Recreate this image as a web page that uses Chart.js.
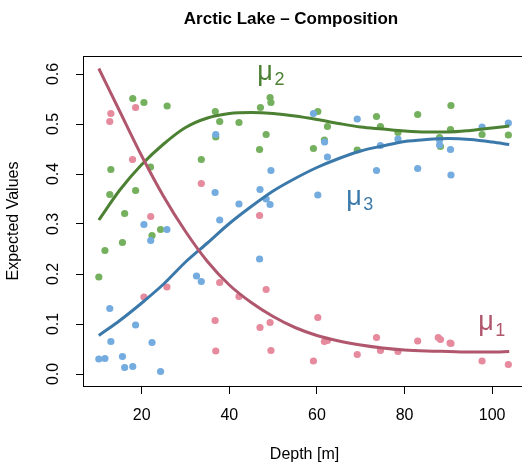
<!DOCTYPE html>
<html><head><meta charset="utf-8">
<script src="https://cdn.jsdelivr.net/npm/chart.js@4/dist/chart.umd.min.js"></script>
<style>html,body{margin:0;padding:0;overflow:hidden;background:#fff}</style>
</head><body>
<canvas id="c" width="530" height="464"></canvas>
<script>
// ---- data ----
const depthTicks = [20, 40, 60, 80, 100];
const valueTicks = [0.0, 0.1, 0.2, 0.3, 0.4, 0.5, 0.6];

// observed compositions (component 1 = pink, 2 = green, 3 = blue)
const obsDepth1 = [12.95,12.7,18.6,17.9,22.05,25.75,20.5,33.6,46.9,37.8,42.2,36.75,36.9,47.0,48.4,49.3,49.5,60.2,61.7,62.4,59.2,73.6,74.5,78.5,83.0,69.2,87.7,88.2,90.6,90.4,97.7,103.7];
const obsValue1 = [0.521,0.505,0.533,0.429,0.315,0.174,0.154,0.381,0.317,0.183,0.155,0.107,0.046,0.093,0.169,0.103,0.047,0.113,0.065,0.067,0.026,0.073,0.047,0.045,0.066,0.039,0.073,0.069,0.061,0.062,0.026,0.019];

const obsDepth2 = [17.95,20.5,25.8,12.95,22.0,12.7,18.6,16.1,22.35,24.3,15.6,11.6,10.2,36.8,37.8,42.2,36.9,33.6,47.1,46.9,49.3,49.5,48.4,60.2,62.4,61.7,59.2,73.6,74.5,83.0,78.5,69.2,90.6,90.5,88.0,88.2,97.7,103.7];
const obsValue2 = [0.551,0.543,0.536,0.409,0.414,0.359,0.367,0.321,0.277,0.289,0.263,0.247,0.194,0.525,0.505,0.503,0.474,0.429,0.533,0.449,0.553,0.543,0.479,0.525,0.495,0.468,0.451,0.515,0.495,0.519,0.483,0.448,0.537,0.489,0.473,0.455,0.479,0.478];

const obsDepth3 = [20.5,22.05,25.75,12.7,18.6,12.95,22.35,10.2,11.6,15.6,16.1,17.95,24.3,36.9,36.75,42.2,37.8,32.5,33.6,47.0,46.9,59.2,61.75,62.4,49.5,60.2,48.4,49.3,69.2,74.5,78.5,73.6,83.0,88.0,88.0,90.5,90.6,97.7,103.7];
const obsValue3 = [0.299,0.267,0.289,0.131,0.098,0.065,0.063,0.030,0.031,0.035,0.013,0.015,0.005,0.479,0.363,0.340,0.308,0.196,0.185,0.369,0.230,0.521,0.464,0.434,0.407,0.358,0.350,0.339,0.510,0.457,0.470,0.407,0.411,0.468,0.458,0.449,0.398,0.494,0.502];

// fitted expected values
const curveDepth = [10.2,15,20,25,30,35,40,45,50,55,60,65,70,75,80,85,90,95,100,103.9];
const mu1 = [0.611,0.525,0.436,0.355,0.285,0.225,0.178,0.143,0.115,0.093,0.077,0.066,0.058,0.052,0.048,0.046,0.045,0.044,0.044,0.045];
const mu2 = [0.308,0.368,0.419,0.460,0.493,0.512,0.521,0.523,0.521,0.516,0.509,0.501,0.494,0.490,0.486,0.484,0.484,0.487,0.492,0.496];
const mu3 = [0.077,0.107,0.142,0.180,0.224,0.262,0.301,0.335,0.366,0.391,0.413,0.431,0.446,0.456,0.465,0.469,0.471,0.469,0.464,0.459];

// ---- styles ----
const PT1 = '#E68A9E', PT2 = '#74B05E', PT3 = '#74ACDF';
const LN1 = '#B0566D', LN2 = '#4C8133', LN3 = '#3B79AB';
const FONT = '"Liberation Sans", Arial, sans-serif';

const pts = (xs, ys) => xs.map((x, i) => ({x, y: ys[i]}));

const decor = {
  id: 'decor',
  afterDraw(chart) {
    const {ctx, chartArea: a, scales: {x, y}} = chart;
    ctx.save();
    // box
    ctx.strokeStyle = '#000';
    ctx.lineWidth = 1;
    ctx.strokeRect(Math.round(a.left) + 0.5, Math.round(a.top) + 0.5, a.right - a.left, Math.round(a.bottom) - Math.round(a.top));
    // title
    ctx.fillStyle = '#000';
    ctx.font = 'bold 17px ' + FONT;
    ctx.textAlign = 'center';
    ctx.textBaseline = 'alphabetic';
    ctx.fillText('Arctic Lake \u2013 Composition', 291, 24);
    // curve labels
    const labs = chart.options.plugins.decor.labels;
    ctx.textAlign = 'left';
    for (const l of labs) {
      const px = x.getPixelForValue(l.x), py = y.getPixelForValue(l.y);
      ctx.fillStyle = l.color;
      ctx.font = '27px ' + FONT;
      ctx.fillText('\u03BC', px, py);
      const w = ctx.measureText('\u03BC').width;
      ctx.font = '18px ' + FONT;
      ctx.fillText(l.sub, px + w + 1.5, py + 5.5);
    }
    ctx.restore();
  }
};

new Chart(document.getElementById('c'), {
  type: 'scatter',
  data: {
    datasets: [
      {data: pts(curveDepth, mu1), showLine: true, borderColor: LN1, borderWidth: 3, pointRadius: 0, cubicInterpolationMode: 'monotone', order: 1},
      {data: pts(curveDepth, mu2), showLine: true, borderColor: LN2, borderWidth: 3, pointRadius: 0, cubicInterpolationMode: 'monotone', order: 2},
      {data: pts(curveDepth, mu3), showLine: true, borderColor: LN3, borderWidth: 3, pointRadius: 0, cubicInterpolationMode: 'monotone', order: 3},
      {data: pts(obsDepth3, obsValue3), backgroundColor: PT3, borderWidth: 0, pointRadius: 3.6, order: 4},
      {data: pts(obsDepth2, obsValue2), backgroundColor: PT2, borderWidth: 0, pointRadius: 3.6, order: 5},
      {data: pts(obsDepth1, obsValue1), backgroundColor: PT1, borderWidth: 0, pointRadius: 3.6, order: 6}
    ]
  },
  options: {
    responsive: false,
    animation: false,
    devicePixelRatio: 1,
    layout: {padding: {top: 56, right: 2, left: 0, bottom: 0}},
    plugins: {
      legend: {display: false},
      tooltip: {enabled: false},
      decor: {labels: [
        {x: 46.4, y: 0.589, sub: '2', color: LN2},
        {x: 66.7, y: 0.339, sub: '3', color: LN3},
        {x: 96.8, y: 0.088, sub: '1', color: LN1}
      ]}
    },
    scales: {
      x: {
        type: 'linear', min: 6.59, max: 107.73,
        afterFit: s => { s.height = 78; },
        afterBuildTicks: s => { s.ticks = depthTicks.map(v => ({value: v})); },
        grid: {drawOnChartArea: false, drawTicks: true, tickLength: 8, tickColor: '#000'},
        border: {display: true, color: '#000'},
        ticks: {color: '#000', font: {family: FONT, size: 16}, padding: 12, maxRotation: 0, autoSkip: false},
        title: {display: true, text: 'Depth [m]', color: '#000', font: {family: FONT, size: 16}, padding: {top: 0, bottom: 0}}
      },
      y: {
        type: 'linear', min: -0.024, max: 0.636,
        afterFit: s => { s.width = 83; },
        afterBuildTicks: s => { s.ticks = valueTicks.map(v => ({value: v})); },
        grid: {drawOnChartArea: false, drawTicks: true, tickLength: 7, tickColor: '#000'},
        border: {display: true, color: '#000'},
        ticks: {color: '#000', font: {family: FONT, size: 16}, padding: 11, minRotation: 90, maxRotation: 90, crossAlign: 'center', autoSkip: false, callback: v => Number(v).toFixed(1)},
        title: {display: true, text: 'Expected Values', color: '#000', font: {family: FONT, size: 16}, padding: {top: 4, bottom: 0}}
      }
    }
  },
  plugins: [decor]
});
</script>
</body></html>
